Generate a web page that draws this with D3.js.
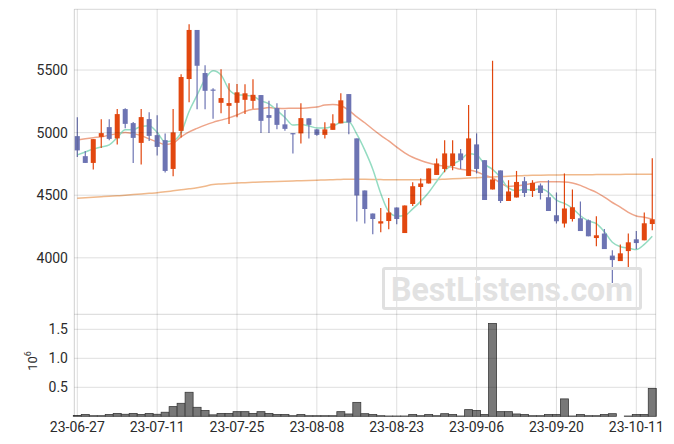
<!DOCTYPE html>
<html><head><meta charset="utf-8">
<script src="https://cdn.jsdelivr.net/npm/d3@7"></script>
<style>body{margin:0;background:#fff}svg{display:block;font-family:Roboto,"DejaVu Sans",sans-serif}</style>
</head><body><svg id="c" width="674" height="444"></svg>
<script>
const dates=["23-06-27","23-06-28","23-06-29","23-06-30","23-07-03","23-07-04","23-07-05","23-07-06","23-07-07","23-07-10",
"23-07-11","23-07-12","23-07-13","23-07-14","23-07-17","23-07-18","23-07-19","23-07-20","23-07-21","23-07-24",
"23-07-25","23-07-26","23-07-27","23-07-28","23-07-31","23-08-01","23-08-02","23-08-03","23-08-04","23-08-07",
"23-08-08","23-08-09","23-08-10","23-08-11","23-08-14","23-08-16","23-08-17","23-08-18","23-08-21","23-08-22",
"23-08-23","23-08-24","23-08-25","23-08-28","23-08-29","23-08-30","23-08-31","23-09-01","23-09-04","23-09-05",
"23-09-06","23-09-07","23-09-08","23-09-11","23-09-12","23-09-13","23-09-14","23-09-15","23-09-18","23-09-19",
"23-09-20","23-09-21","23-09-22","23-09-25","23-09-26","23-09-27","23-10-04","23-10-05","23-10-06","23-10-10",
"23-10-11","23-10-12","23-10-13"];
const open=[4972,4812,4758,4966,5044,4954,5188,5076,4918,5108,4980,4940,4710,5014,5428,5820,5476,5344,5238,5214,
5238,5262,5254,5300,5140,5196,5066,4996,4994,5114,5026,4982,5022,5074,5308,4954,4538,4354,4274,4294,
4402,4198,4430,4566,4594,4662,4710,4734,4834,4654,4906,4780,4546,4698,4454,4482,4612,4534,4578,4484,
4340,4274,4310,4316,4300,4158,4194,4018,3974,4054,4148,4140,4270];
const high=[5122,4854,4948,5106,5106,5188,5194,5084,5188,5162,5138,4994,5188,5466,5866,5820,5538,5354,5506,5394,
5388,5386,5426,5300,5254,5234,5180,4998,5234,5114,5026,5082,5146,5314,5308,4954,4538,4354,4398,4478,
4402,4418,4604,4634,4714,4794,4940,4940,4870,5220,4994,4780,5574,4698,4620,4694,4646,4620,4594,4620,
4522,4674,4546,4450,4306,4332,4230,4060,4106,4194,4214,4362,4796];
const low=[4806,4758,4706,4878,4940,4906,5034,4758,4746,4934,4818,4682,4652,4962,5242,5186,5186,5110,5154,5068,
5122,5148,5190,4998,4998,5026,5014,4834,4914,4954,4976,4954,5022,5074,4988,4290,4274,4188,4204,4228,
4268,4198,4414,4420,4594,4662,4684,4700,4710,4654,4674,4462,4546,4438,4454,4482,4486,4486,4466,4374,
4274,4242,4290,4214,4172,4092,4070,3798,3974,3914,4070,4140,4220];
const close=[4858,4758,4948,4996,4950,5148,5070,4958,5124,4974,4886,4694,5002,5444,5820,5534,5334,5336,5276,5236,
5322,5314,5302,5094,5118,5062,5030,4994,5116,5062,4982,5026,5074,5258,5082,4498,4390,4310,4292,4362,
4310,4418,4572,4594,4714,4754,4834,4834,4780,4954,4710,4462,4626,4454,4530,4606,4518,4598,4518,4374,
4292,4394,4404,4214,4172,4180,4070,3982,4036,4124,4118,4276,4308];
const volume=[15000,30000,10000,10000,30000,50000,35000,50000,30000,50000,35000,70000,167000,224000,414000,155000,100000,25000,50000,50000,
80000,80000,50000,80000,50000,30000,30000,10000,30000,10000,10000,10000,10000,80000,40000,240000,45000,30000,10000,5000,
5000,5000,30000,10000,30000,10000,45000,30000,5000,115000,100000,30000,1600000,80000,80000,40000,30000,10000,10000,30000,
30000,300000,5000,30000,10000,10000,30000,45000,0,5000,30000,30000,480000];
const ma5=[4822,4845,4870,4885,4902,4960,5022,5024,5050,5055,5002,4927,4936,5000,5169,5299,5427,5494,5461,5344,
5302,5298,5290,5254,5230,5178,5121,5060,5064,5053,5037,5036,5052,5080,5084,4988,4860,4708,4514,4370,
4333,4338,4391,4451,4522,4610,4694,4746,4783,4831,4822,4748,4706,4641,4556,4536,4547,4541,4554,4523,
4460,4435,4396,4336,4295,4273,4208,4124,4088,4078,4066,4107,4172];
const ma20=[4942,4952,4960,4966,4980,4992,5002,4992,4976,4950,4926,4905,4916,4966,5006,5034,5060,5082,5100,5118,
5141,5169,5186,5191,5200,5195,5193,5195,5195,5199,5204,5220,5224,5215,5178,5126,5079,5027,4978,4934,
4884,4839,4803,4778,4757,4742,4732,4724,4707,4702,4688,4660,4638,4598,4570,4575,4582,4596,4607,4608,
4607,4606,4598,4579,4551,4523,4485,4442,4405,4363,4334,4324,4308];
const ma120=[4476,4480,4484,4488,4492,4495,4500,4505,4510,4515,4520,4527,4535,4543,4551,4560,4572,4585,4590,4594,
4597,4600,4603,4606,4608,4610,4612,4614,4616,4618,4620,4622,4624,4626,4628,4628,4627,4626,4625,4624,
4624,4623,4623,4624,4625,4625,4628,4631,4634,4637,4640,4643,4646,4649,4652,4655,4657,4659,4660,4661,
4662,4663,4663,4664,4664,4665,4665,4666,4666,4667,4668,4668,4668];
const priceTicks=[4000,4500,5000,5500];
const volTicks=[0.5e6,1.0e6,1.5e6];
const volTickLabels=["0.5","1.0","1.5"];
const tickDates=["23-06-27","23-07-11","23-07-25","23-08-08","23-08-23","23-09-06","23-09-20","23-10-11"];

const svg=d3.select("#c");
const L=74.3,R=655.7,PT=9.3,PB=314.3,VB=416.3;
const x=d3.scaleLinear().domain([0,70]).range([77.3,636.3]);
const y=d3.scaleLinear().domain([3549,5985]).range([PB,PT]);
const yv=d3.scaleLinear().domain([0,1.7586e6]).range([VB,PB]);
const idx=d3.range(dates.length);

// moving averages
const mk=arr=>d3.line().x((d,i)=>x(i)).y(d=>y(d)).curve(d3.curveMonotoneX)(arr);
svg.append("path").attr("d",mk(ma120)).attr("fill","none").attr("stroke","#f0b98c").attr("stroke-width",1.5);
svg.append("path").attr("d",mk(ma20)).attr("fill","none").attr("stroke","#eea58a").attr("stroke-width",1.5);
svg.append("path").attr("d",mk(ma5)).attr("fill","none").attr("stroke","#94dcc2").attr("stroke-width",1.5);

// candles
const up="#e2470f",dn="#6d74b3";
const cg=svg.append("g");
idx.forEach(i=>{
  const c=close[i]>=open[i]?up:dn;
  cg.append("line").attr("x1",x(i)).attr("x2",x(i)).attr("y1",y(high[i])).attr("y2",y(low[i])).attr("stroke",c).attr("stroke-width",1.2);
  const t=y(Math.max(open[i],close[i])),b=y(Math.min(open[i],close[i]));
  cg.append("rect").attr("x",x(i)-2.5).attr("width",5).attr("y",t).attr("height",Math.max(1.2,b-t)).attr("fill",c);
});

// volume bars
const bw=x(1)-x(0);
idx.forEach(i=>{ if(volume[i]<=0) return;
  svg.append("rect").attr("x",x(i)-bw/2).attr("width",bw).attr("y",yv(volume[i])).attr("height",VB-yv(volume[i]))
   .attr("fill","#787878").attr("stroke","#3a3a3a").attr("stroke-width",0.8);
});

// grid on top (semi-transparent)
const grid="rgba(0,0,0,0.13)";
const g=svg.append("g");
priceTicks.forEach(t=>g.append("line").attr("x1",L).attr("x2",R).attr("y1",y(t)).attr("y2",y(t)).attr("stroke",grid));
volTicks.forEach(t=>g.append("line").attr("x1",L).attr("x2",R).attr("y1",yv(t)).attr("y2",yv(t)).attr("stroke",grid));
[PT,PB].forEach(v=>g.append("line").attr("x1",L).attr("x2",R).attr("y1",v).attr("y2",v).attr("stroke","rgba(0,0,0,0.16)"));
tickDates.forEach(d=>{const xi=x(dates.indexOf(d));
  g.append("line").attr("x1",xi).attr("x2",xi).attr("y1",PT).attr("y2",VB).attr("stroke",grid);});
g.append("line").attr("x1",R).attr("x2",R).attr("y1",PT).attr("y2",VB).attr("stroke","rgba(0,0,0,0.16)");
g.append("line").attr("x1",L).attr("x2",L).attr("y1",PT).attr("y2",VB).attr("stroke","rgba(0,0,0,0.19)");

// axis labels
const tc="#2b2b2b";
priceTicks.forEach(t=>svg.append("text").attr("x",68).attr("y",y(t)).attr("dy","0.36em").attr("text-anchor","end")
  .attr("font-size",14).attr("fill",tc).text(t));
volTicks.forEach((t,k)=>svg.append("text").attr("x",68).attr("y",yv(t)).attr("dy","0.36em").attr("text-anchor","end")
  .attr("font-size",14).attr("fill",tc).text(volTickLabels[k]));
tickDates.forEach(d=>svg.append("text").attr("x",x(dates.indexOf(d))).attr("y",431.5).attr("text-anchor","middle")
  .attr("font-size",14).attr("fill",tc).text(d));
const vl=svg.append("text").attr("transform","translate(37,361) rotate(-90)").attr("text-anchor","middle")
  .attr("font-size",13).attr("fill",tc);
vl.append("tspan").text("10");
vl.append("tspan").attr("dy",-6).attr("font-size",9).text("6");

// watermark
svg.append("rect").attr("x",383.5).attr("y",268.5).attr("width",257).attr("height",40).attr("rx",1.5)
  .attr("fill","none").attr("stroke","#e0e0e0").attr("stroke-width",3);
svg.append("text").attr("x",391).attr("y",300.5).attr("font-size",33).attr("font-weight","bold")
  .attr("textLength",242).attr("lengthAdjust","spacingAndGlyphs").attr("fill","#e2e2e2").text("BestListens.com");
</script></body></html>
